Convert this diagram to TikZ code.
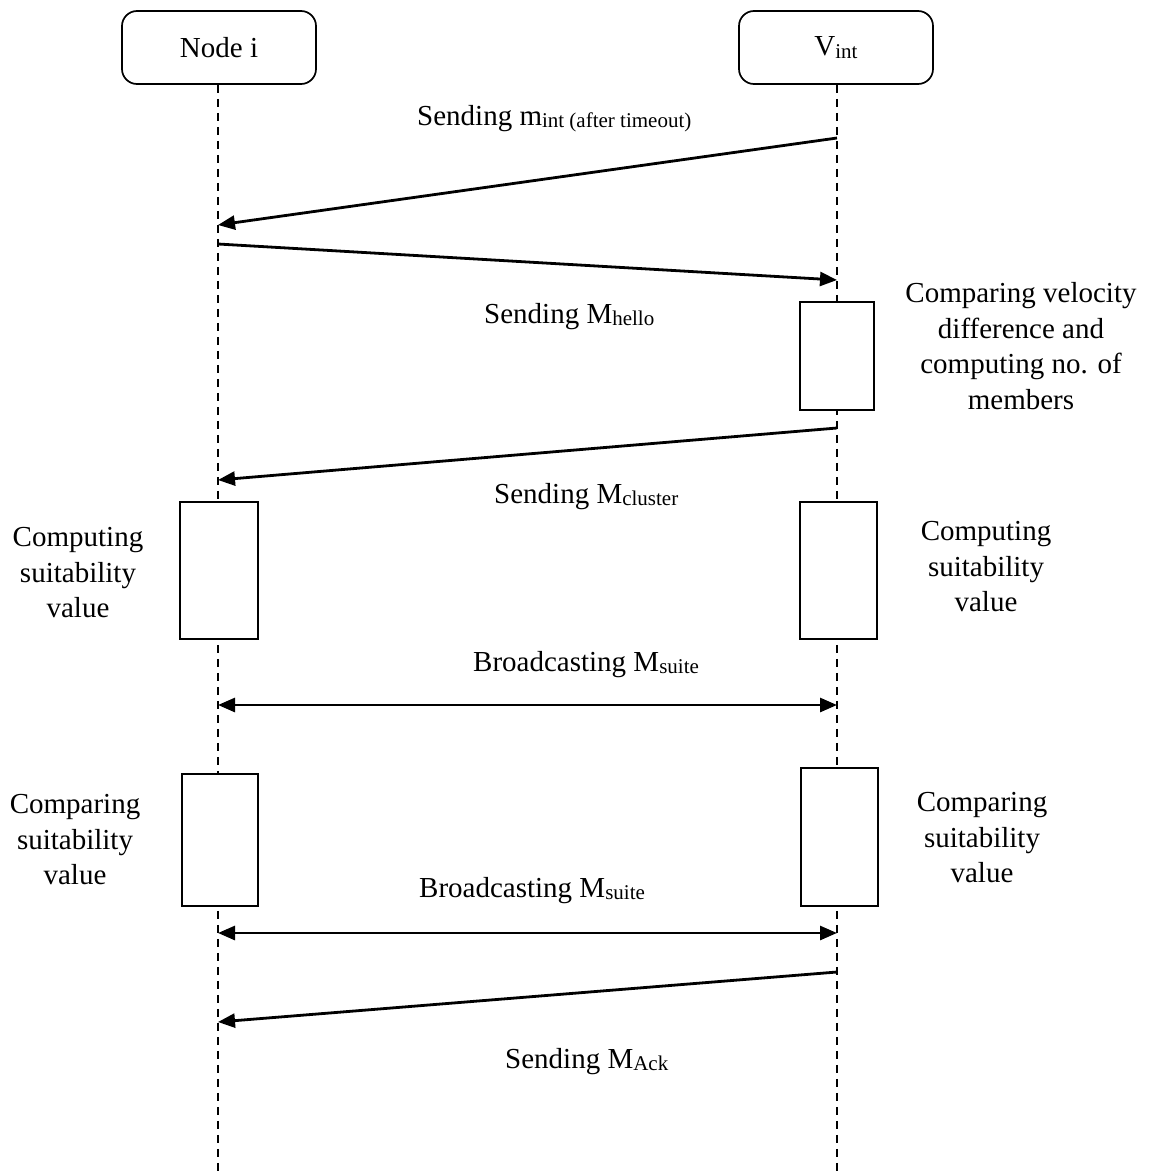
\documentclass[tikz,border=0pt]{standalone}
\usepackage{fontspec}
\setmainfont{Liberation Serif}
\usetikzlibrary{arrows.meta}
% lowered, smaller text used for message subscripts
\newcommand{\lowsub}[1]{\raisebox{-0.2ex}{\fontsize{21}{21}\selectfont #1}}

\begin{document}
\begin{tikzpicture}[x=1pt,y=-1pt,
  actor/.style={draw,line width=1.7pt,rounded corners=15pt,
    minimum width=194pt,minimum height=73pt,inner sep=0pt,
    font=\fontsize{29}{34}\selectfont},
  activation/.style={draw,fill=white,line width=1.7pt,anchor=north west,inner sep=0pt},
  lifeline/.style={line width=1.6pt,dash pattern=on 8pt off 6pt},
  msg/.style={line width=2.8pt,-{Triangle[length=17pt,width=14pt]}},
  bimsg/.style={line width=2.8pt,{Triangle[length=17pt,width=14pt]}-{Triangle[length=17pt,width=14pt]}},
  lbl/.style={font=\fontsize{29}{34}\selectfont,anchor=base west,inner sep=0pt},
  note/.style={font=\fontsize{29}{35.5}\selectfont,align=center,inner sep=0pt}]
\useasboundingbox (0,0) rectangle (1150,1173);

% participants
\node[actor] (ni) at (219,47.5) {Node i};
\node[actor] (vi) at (836,47.5) {V\lowsub{int}};

% lifelines
\coordinate (niend) at (218,1173);
\coordinate (viend) at (837,1173);
\draw[lifeline] (ni.south -| niend) -- (niend);
\draw[lifeline] (vi.south -| viend) -- (viend);

% activation boxes
\node[activation,minimum width=74pt,minimum height=108pt] (a1) at (799,301) {};
\node[activation,minimum width=78pt,minimum height=137pt] (a2) at (179,501) {};
\node[activation,minimum width=77pt,minimum height=137pt] (a3) at (799,501) {};
\node[activation,minimum width=76pt,minimum height=132pt] (a4) at (181,773) {};
\node[activation,minimum width=77pt,minimum height=138pt] (a5) at (800,767) {};

% message end points on the lifelines
\coordinate (m1s) at (837,138);  \coordinate (m1e) at (218,225);
\coordinate (m2s) at (218,244);  \coordinate (m2e) at (837,280);
\coordinate (m3s) at (837,428);  \coordinate (m3e) at (218,480);
\coordinate (m4s) at (218,705);  \coordinate (m4e) at (837,705);
\coordinate (m5s) at (218,933);  \coordinate (m5e) at (837,933);
\coordinate (m6s) at (837,972);  \coordinate (m6e) at (218,1022);

% messages
\draw[msg] (m1s) -- (m1e);
\draw[msg] (m2s) -- (m2e);
\draw[msg] (m3s) -- (m3e);
\draw[bimsg] (m4s) -- (m4e);
\draw[bimsg] (m5s) -- (m5e);
\draw[msg] (m6s) -- (m6e);

% message labels
\node[lbl] (l1) at (417,125) {Sending m\lowsub{int (after timeout)}};
\node[lbl] (l2) at (484,323) {Sending M\lowsub{hello}};
\node[lbl] (l3) at (494,503) {Sending M\lowsub{cluster}};
\node[lbl] (l4) at (473,671) {Broadcasting M\lowsub{suite}};
\node[lbl] (l5) at (419,897) {Broadcasting M\lowsub{suite}};
\node[lbl] (l6) at (505,1068) {Sending M\lowsub{Ack}};

% activity notes
\node[note] (t1) at (1021,346) {Comparing velocity\\difference and\\computing no. of\\members};
\node[note] (t2) at (78,573) {Computing\\suitability\\value};
\node[note] (t3) at (986,567) {Computing\\suitability\\value};
\node[note] (t4) at (75,840) {Comparing\\suitability\\value};
\node[note] (t5) at (982,838) {Comparing\\suitability\\value};
\end{tikzpicture}
\end{document}
